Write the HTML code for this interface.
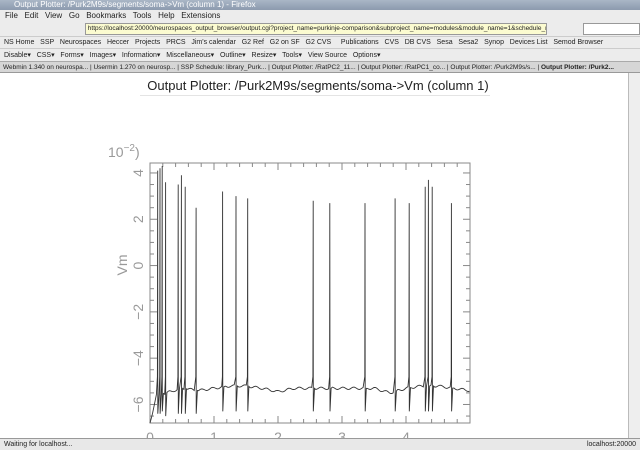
<!DOCTYPE html>
<html><head><meta charset="utf-8"><style>
body{margin:0;width:640px;height:450px;overflow:hidden;font-family:"Liberation Sans","DejaVu Sans",sans-serif;font-size:8px;background:#fff;position:relative}
.bar{position:absolute;left:0;width:640px;box-sizing:border-box;white-space:nowrap;overflow:hidden;color:#222}
</style></head><body>
<div class="bar" style="top:0;height:10px;background:linear-gradient(#a9b6c6,#8c9aae);color:#fff;padding-left:14px;font-size:8px;line-height:10px">Output Plotter: /Purk2M9s/segments/soma-&gt;Vm (column 1) - Firefox</div>
<div class="bar" style="top:10px;height:11px;background:#ececec;padding-left:5px;line-height:11px">File &nbsp; Edit &nbsp; View &nbsp; Go &nbsp; Bookmarks &nbsp; Tools &nbsp; Help &nbsp; Extensions</div>
<div class="bar" style="top:21px;height:15px;background:#ececec">
<div style="position:absolute;left:85px;top:2px;width:460px;height:10px;background:#fbfbd0;border:1px solid #999;font-size:6.5px;line-height:10px;overflow:hidden">&nbsp;https://localhost:20000/neurospaces_output_browser/output.cgi?project_name=purkinje-comparison&amp;subproject_name=modules&amp;module_name=1&amp;schedule_na</div>
<div style="position:absolute;left:583px;top:2px;width:55px;height:10px;background:#fff;border:1px solid #999"></div></div>
<div class="bar" style="top:36px;height:12px;background:#ececec;font-size:7px;line-height:12px;padding-left:4px;border-top:1px solid #ccc">NS Home &nbsp; SSP &nbsp; Neurospaces &nbsp; Heccer &nbsp; Projects &nbsp; PRCS &nbsp; Jim's calendar &nbsp; G2 Ref &nbsp; G2 on SF &nbsp; G2 CVS &nbsp; &nbsp; Publications &nbsp; CVS &nbsp; DB CVS &nbsp; Sesa &nbsp; Sesa2 &nbsp; Synop &nbsp; Devices List &nbsp; Semod Browser</div>
<div class="bar" style="top:48px;height:13px;background:#ececec;font-size:7px;line-height:13px;padding-left:4px;border-top:1px solid #ccc">Disable▾ &nbsp; CSS▾ &nbsp; Forms▾ &nbsp; Images▾ &nbsp; Information▾ &nbsp; Miscellaneous▾ &nbsp; Outline▾ &nbsp; Resize▾ &nbsp; Tools▾ &nbsp; View Source &nbsp; Options▾</div>
<div class="bar" style="top:61px;height:12px;background:#d6d6d6;font-size:6.5px;line-height:12px;padding-left:3px;border-top:1px solid #aaa;border-bottom:1px solid #999">Webmin 1.340 on neurospa... | Usermin 1.270 on neurosp... | SSP Schedule: library_Purk... | Output Plotter: /RatPC2_11... | Output Plotter: /RatPC1_co... | Output Plotter: /Purk2M9s/s... | <b>Output Plotter: /Purk2...</b></div>
<div style="position:absolute;left:628px;top:73px;width:12px;height:365px;background:#eee;border-left:1px solid #bbb"></div>
<div style="position:absolute;left:0;width:636px;top:78px;text-align:center;font-size:13px;color:#222">Output Plotter: /Purk2M9s/segments/soma-&gt;Vm (column 1)</div>
<div style="position:absolute;left:140px;width:350px;top:95px;border-top:1px solid #e4e4e4"></div>
<svg id="chart" width="628" height="365" style="position:absolute;left:0;top:73px" viewBox="0 73 628 365"></svg>
<div class="bar" style="top:438px;height:12px;background:#e8e8e8;border-top:1px solid #999;font-size:7px;line-height:12px;padding-left:4px">Waiting for localhost...<span style="position:absolute;right:4px">localhost:20000</span></div>
<script>
const spikeTimes=[0.12,0.156,0.19,0.244,0.44,0.49,0.55,0.72,1.135,1.344,1.526,2.55,2.81,3.36,3.83,4.05,4.30,4.35,4.41,4.71];
const spikePeaks=[4.1,4.2,4.3,3.6,3.5,3.9,3.4,2.5,3.2,3.0,2.9,2.8,2.7,2.7,2.9,2.7,3.4,3.7,3.4,2.7];
const spikeTroughs=[-6.4,-6.4,-6.3,-6.5,-6.4,-6.4,-6.4,-6.4,-6.3,-6.3,-6.3,-6.3,-6.3,-6.3,-6.3,-6.3,-6.3,-6.3,-6.3,-6.3];
const baseTimes=[0,0.1,0.25,0.5,0.75,1.0,1.25,1.5,1.75,2.0,2.25,2.5,2.75,3.0,3.25,3.5,3.75,4.0,4.25,4.5,4.75,5.0];
const baseValues=[-6.8,-5.6,-5.5,-5.3,-5.4,-5.3,-5.2,-5.2,-5.3,-5.45,-5.3,-5.3,-5.3,-5.3,-5.3,-5.3,-5.5,-5.3,-5.2,-5.2,-5.3,-5.4];
const xTicks=[0,1,2,3,4];
const yTicks=[-6,-4,-2,0,2,4];
const svg=document.getElementById('chart');
const NS='http://www.w3.org/2000/svg';
const L=150,R=470,T=163,B=423,xMin=0,xMax=5,yMin=-6.8,yMax=4.43;
const X=t=>L+(t-xMin)/(xMax-xMin)*(R-L);
const Y=v=>B-(v-yMin)/(yMax-yMin)*(B-T);
function mk(tag,at){const e=document.createElementNS(NS,tag);for(const k in at)e.setAttribute(k,at[k]);svg.appendChild(e);return e;}
function base(t){for(let i=1;i<baseTimes.length;i++){if(t<=baseTimes[i]){const a=baseTimes[i-1],b=baseTimes[i];return baseValues[i-1]+(baseValues[i]-baseValues[i-1])*(t-a)/(b-a);}}return baseValues[baseValues.length-1];}
const frame=mk('rect',{x:L,y:T,width:R-L,height:B-T,fill:'none',stroke:'#888','stroke-width':1});


for(let t=0;t<=5.001;t+=0.2){const x=X(t),maj=Math.abs(t-Math.round(t))<0.01,len=maj?7:4;
mk('line',{x1:x,y1:B,x2:x,y2:B-len,stroke:'#888'});mk('line',{x1:x,y1:T,x2:x,y2:T+len,stroke:'#888'});}
for(let v=-6.5;v<=4.4;v+=0.5){const y=Y(v),maj=Math.abs(v/2-Math.round(v/2))<0.01,len=maj?7:4;
mk('line',{x1:L,y1:y,x2:L+len,y2:y,stroke:'#888'});mk('line',{x1:R,y1:y,x2:R-len,y2:y,stroke:'#888'});}
xTicks.forEach(t=>{const e=mk('text',{x:X(t),y:442,'text-anchor':'middle','font-size':14,fill:'#999','font-family':'Liberation Sans, sans-serif'});e.textContent=t;

});
yTicks.forEach(v=>{const e=mk('text',{x:0,y:0,'text-anchor':'middle','font-size':14,fill:'#999','font-family':'Liberation Sans, sans-serif',transform:`translate(${143},${Y(v)}) rotate(-90)`});e.textContent=v<0?'\u2212'+(-v):v;

});
const yl=mk('text',{x:0,y:0,'text-anchor':'middle','font-size':14,fill:'#999','font-family':'Liberation Sans, sans-serif',transform:'translate(127,265) rotate(-90)'});yl.textContent='Vm';


const sc=mk('text',{x:108,y:157,'font-size':14,fill:'#999','font-family':'Liberation Sans, sans-serif'});sc.innerHTML='10<tspan dy="-6" font-size="10">\u22122</tspan><tspan dy="6">)</tspan>';


let d='M'+X(0)+','+Y(baseValues[0]);let last=0;
const evs=spikeTimes.map((t,i)=>i).sort((a,b)=>spikeTimes[a]-spikeTimes[b]);
function walk(to){for(let t=last+0.02;t<to;t+=0.02)d+=' L'+X(t).toFixed(1)+','+(Y(base(t))+(Math.sin(t*37)*1.2)).toFixed(1);last=to;}
evs.forEach(i=>{const t=spikeTimes[i];walk(t-0.012);d+=` L${X(t-0.004).toFixed(1)},${Y(-4.8).toFixed(1)} L${X(t).toFixed(1)},${Y(spikePeaks[i]).toFixed(1)} L${X(t+0.002).toFixed(1)},${Y(spikeTroughs[i]).toFixed(1)} L${X(t+0.02).toFixed(1)},${Y(base(t+0.02)).toFixed(1)}`;last=t+0.02;});
walk(5);
const p=mk('path',{d:d,fill:'none',stroke:'#333','stroke-width':0.9});


</script>
</body></html>
